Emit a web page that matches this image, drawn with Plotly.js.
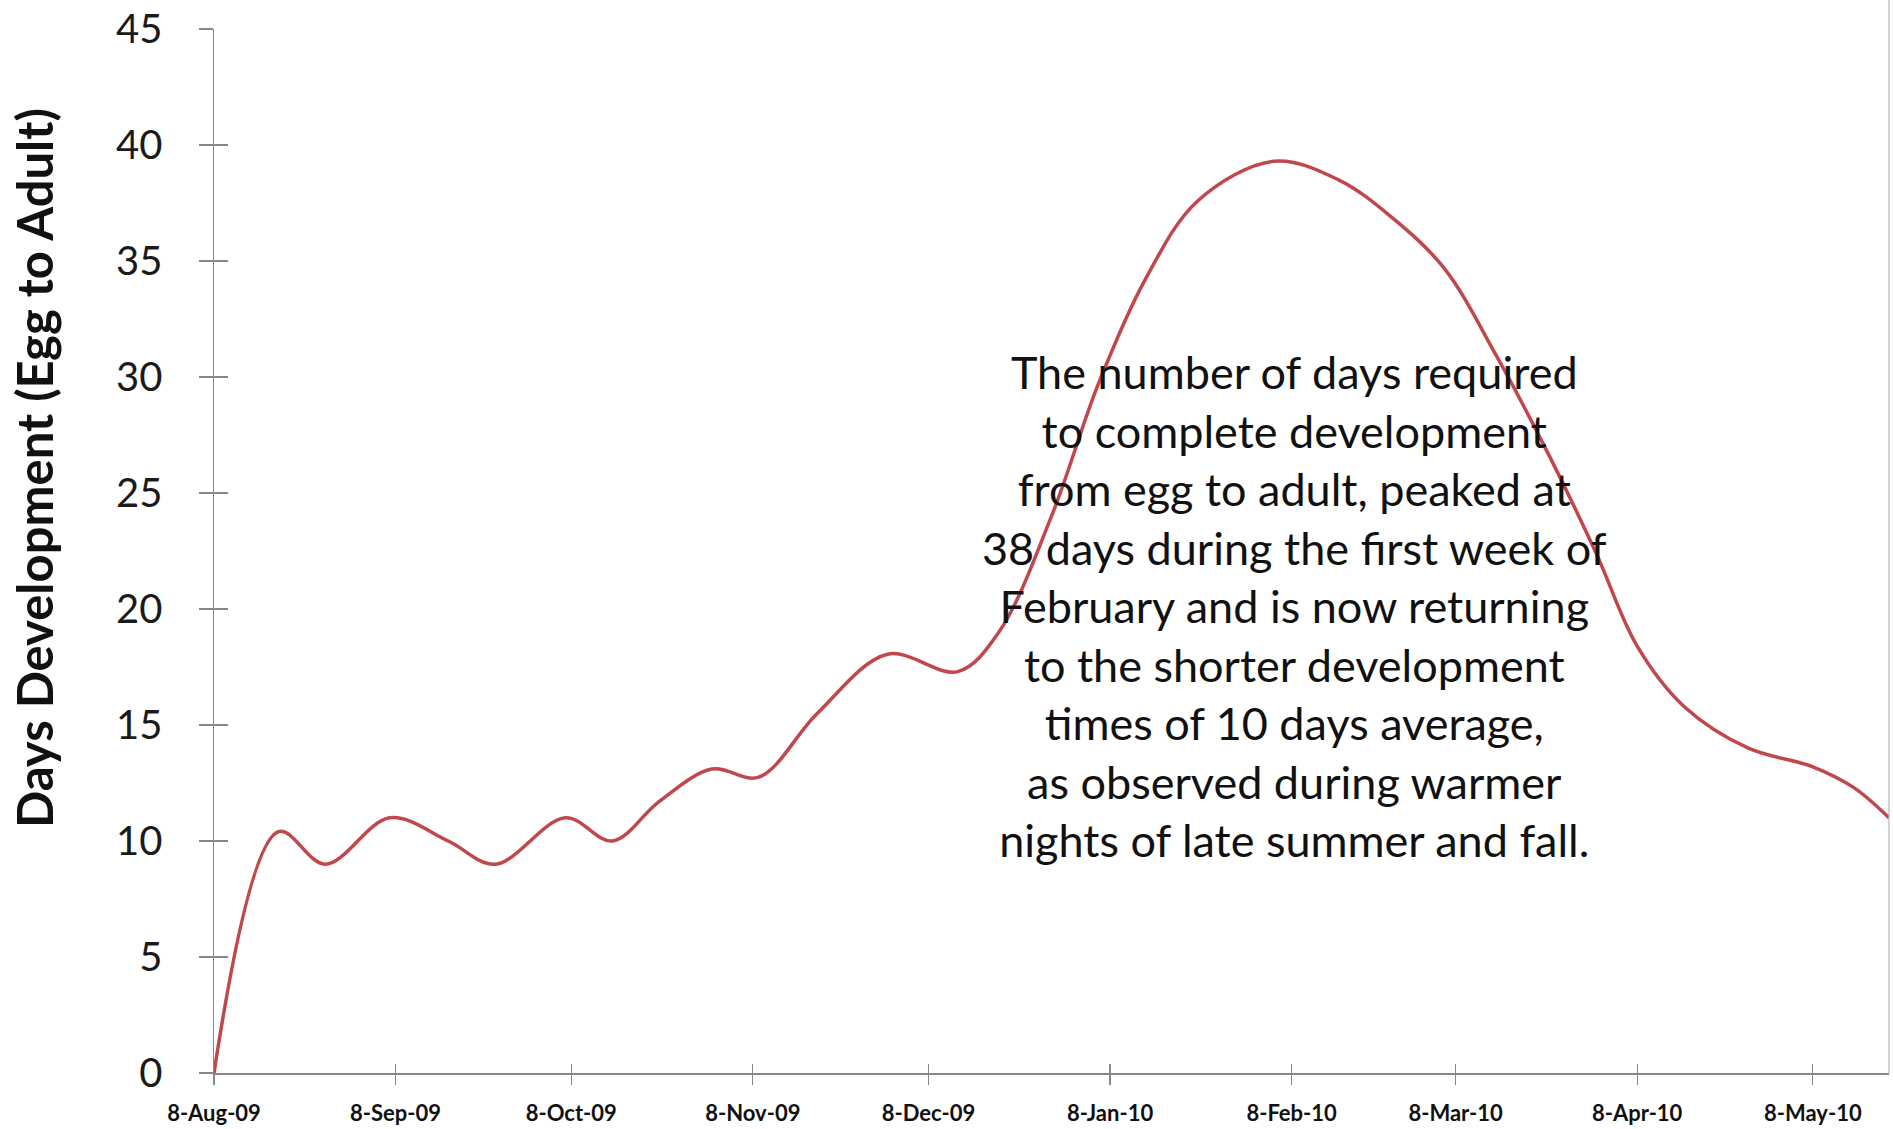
<!DOCTYPE html>
<html>
<head>
<meta charset="utf-8">
<script src="https://cdn.plot.ly/plotly-3.0.1.min.js"></script>
<style>
  html, body { margin: 0; padding: 0; background: #ffffff; }
  #chart { width: 1893px; height: 1129px; }
</style>
</head>
<body>
<div id="chart"></div>
<script>
// Sampling dates (data points of the smoothed line)
const sampleDates = [
  '2009-08-08', '2009-08-19', '2009-08-27', '2009-09-07', '2009-09-17', '2009-09-25',
  '2009-10-07', '2009-10-15', '2009-10-23', '2009-11-01', '2009-11-09', '2009-11-19',
  '2009-12-01', '2009-12-13', '2009-12-20', '2009-12-29', '2010-01-06', '2010-01-14',
  '2010-01-23', '2010-02-05', '2010-02-16', '2010-02-25', '2010-03-06', '2010-03-15',
  '2010-03-24', '2010-04-01', '2010-04-08', '2010-04-16', '2010-04-27', '2010-05-08',
  '2010-05-15', '2010-05-21'
];
// Days of development, egg to adult
const daysDevelopment = [
  0, 10.4, 9.0, 11.0, 10.0, 9.0,
  11.0, 10.0, 11.7, 13.1, 12.75, 15.5,
  18.05, 17.3, 19.0, 24.0, 29.7, 34.2,
  37.6, 39.3, 38.5, 36.9, 34.7, 30.9,
  26.6, 22.4, 18.4, 15.8, 14.0, 13.2,
  12.3, 11.0
];
// X axis ticks
const xTickDates = [
  '2009-08-08', '2009-09-08', '2009-10-08', '2009-11-08', '2009-12-08',
  '2010-01-08', '2010-02-08', '2010-03-08', '2010-04-08', '2010-05-08'
];
const xTickLabels = [
  '8-Aug-09', '8-Sep-09', '8-Oct-09', '8-Nov-09', '8-Dec-09',
  '8-Jan-10', '8-Feb-10', '8-Mar-10', '8-Apr-10', '8-May-10'
];
const yTickValues = [0, 5, 10, 15, 20, 25, 30, 35, 40, 45];
const xRange = ['2009-08-08', '2010-05-21'];
const yRange = [0, 45];

const yTitleText = 'Days Development (Egg to Adult)';
const noteLines = [
  'The number of days required',
  'to complete development',
  'from egg to adult, peaked at',
  '38 days during the first week of',
  'February and is now returning',
  'to the shorter development',
  'times of 10 days average,',
  'as observed during warmer',
  'nights of late summer and fall.'
];

const axisGrey = '#878787';
const FONT = 'Lato, "Open Sans", sans-serif';

const traces = [
  {
    x: sampleDates,
    y: daysDevelopment,
    type: 'scatter',
    mode: 'lines',
    line: { color: '#C0474B', width: 3.5, shape: 'spline', smoothing: 1 },
    showlegend: false,
    hoverinfo: 'x+y'
  },
  {
    x: [], y: [], type: 'scatter', mode: 'lines',
    xaxis: 'x2', yaxis: 'y2', showlegend: false, hoverinfo: 'skip'
  }
];

const layout = {
  width: 1893,
  height: 1129,
  paper_bgcolor: '#ffffff',
  plot_bgcolor: '#ffffff',
  margin: { l: 214, r: 4, t: 29, b: 56, pad: 0 },
  showlegend: false,
  font: { family: FONT, color: '#1a1a1a' },
  xaxis: {
    type: 'date',
    range: xRange,
    tickmode: 'array',
    tickvals: xTickDates,
    ticktext: xTickLabels,
    ticks: 'outside',
    ticklen: 10,
    tickwidth: 1.2,
    tickcolor: axisGrey,
    tickfont: { family: FONT, size: 22, color: '#111111', weight: 'bold' },
    ticklabelstandoff: 10,
    showline: true,
    linecolor: axisGrey,
    linewidth: 1.5,
    showgrid: false,
    zeroline: false,
    automargin: false,
    fixedrange: true
  },
  yaxis: {
    range: yRange,
    tickmode: 'array',
    tickvals: yTickValues,
    ticks: 'outside',
    ticklen: 14,
    tickwidth: 1.2,
    tickcolor: axisGrey,
    tickfont: { family: FONT, size: 40, color: '#1a1a1a' },
    ticklabelstandoff: 28,
    showline: true,
    linecolor: axisGrey,
    linewidth: 1.5,
    showgrid: false,
    zeroline: false,
    automargin: false,
    fixedrange: true
  },
  xaxis2: {
    type: 'date',
    overlaying: 'x',
    anchor: 'y2',
    range: xRange,
    tickmode: 'array',
    tickvals: xTickDates,
    ticks: 'inside',
    ticklen: 9,
    tickwidth: 1.2,
    tickcolor: axisGrey,
    showticklabels: false,
    showline: false,
    showgrid: false,
    zeroline: false,
    automargin: false,
    fixedrange: true
  },
  yaxis2: {
    overlaying: 'y',
    anchor: 'x2',
    side: 'left',
    range: yRange,
    tickmode: 'array',
    tickvals: yTickValues,
    ticks: 'inside',
    ticklen: 14,
    tickwidth: 1.2,
    tickcolor: axisGrey,
    showticklabels: false,
    showline: false,
    showgrid: false,
    zeroline: false,
    automargin: false,
    fixedrange: true
  },
  shapes: [
    {
      type: 'line', xref: 'paper', yref: 'paper',
      x0: 1, x1: 1, y0: 0, y1: 1.03,
      line: { color: '#b5b5b5', width: 1.2 }
    }
  ],
  annotations: [
    {
      text: yTitleText,
      xref: 'paper', yref: 'paper',
      x: -0.1075, y: 0.5795,
      xanchor: 'center', yanchor: 'middle',
      textangle: -90,
      showarrow: false,
      font: { family: FONT, size: 49, color: '#111111', weight: 'bold' }
    },
    {
      text: noteLines.join('<br>'),
      xref: 'paper', yref: 'paper',
      x: 0.645, y: 0.4469,
      xanchor: 'center', yanchor: 'middle',
      align: 'center',
      showarrow: false,
      font: { family: FONT, size: 45, color: '#111111' }
    }
  ]
};

Plotly.newPlot('chart', traces, layout, { displayModeBar: false, staticPlot: true });
</script>
</body>
</html>
